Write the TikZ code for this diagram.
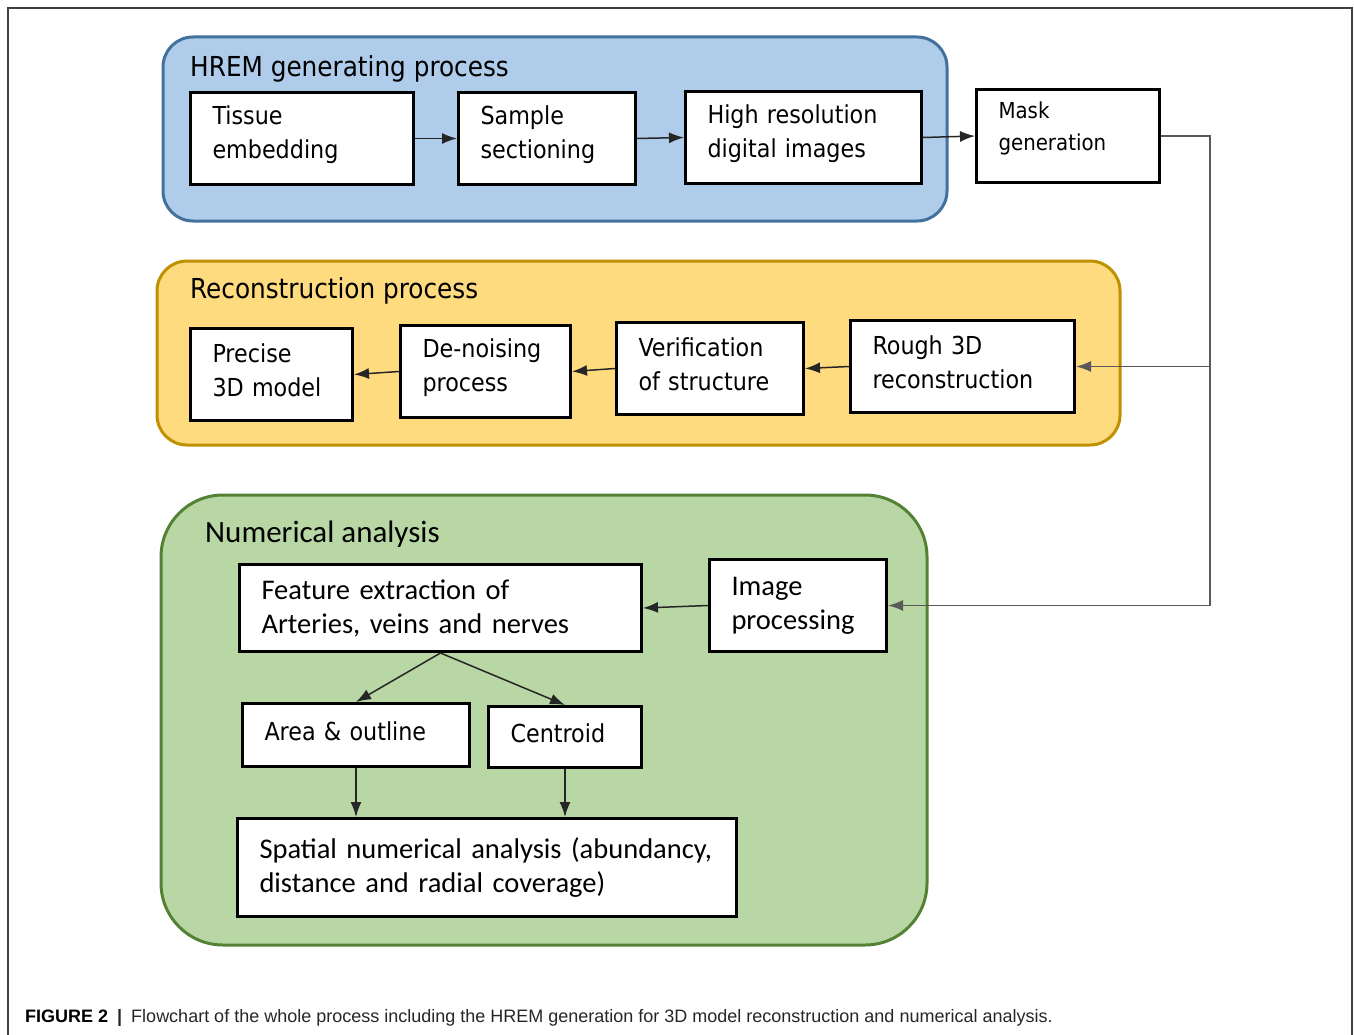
\documentclass[tikz,border=0pt]{standalone}
\usepackage{fontspec}
\usetikzlibrary{arrows.meta}
\IfFontExistsTF{DejaVu Sans Condensed}
  {\newfontfamily\tah[Scale=1.1]{DejaVu Sans Condensed}}
  {\newfontfamily\tah{DejaVu Sans}}
\newfontfamily\calib{Carlito}
\newfontfamily\capfont{Liberation Sans}
\definecolor{hremfill}{RGB}{175,205,234}
\definecolor{hremline}{RGB}{65,113,156}
\definecolor{recfill}{RGB}{255,219,128}
\definecolor{recline}{RGB}{191,144,0}
\definecolor{numfill}{RGB}{184,215,164}
\definecolor{numline}{RGB}{84,130,53}
\tikzset{
  box/.style={draw, line width=3pt, fill=white, anchor=north west, align=left, inner xsep=22pt, inner ysep=0pt},
  tbox/.style={box, font=\tah\fontsize{22.5}{34}\selectfont, execute at end node={\par\vspace*{8pt}}},
  cbox/.style={box, font=\calib\fontsize{28.5}{34}\selectfont},
  group/.style={line width=3pt},
  title/.style={anchor=base west, inner sep=0pt},
  link/.style={line width=1.5pt, black!85},
  bus/.style={line width=1.5pt, black!65}
}
\begin{document}
\begin{tikzpicture}[x=1pt, y=-1pt, >={Latex[length=15pt,width=11pt]}]
\useasboundingbox (0,0) rectangle (1354,1035);
\draw[line width=2pt, black!75] (8,1035)--(8,8)--(1352,8)--(1352,1035);

% the three process groups
\draw[group, draw=hremline, fill=hremfill, rounded corners=30pt] (163,37) rectangle (947,221);
\draw[group, draw=recline, fill=recfill, rounded corners=30pt] (157,261) rectangle (1120,445);
\draw[group, draw=numline, fill=numfill, rounded corners=62pt] (161,495) rectangle (927,945);
\node[title, font=\tah\fontsize{25}{30}\selectfont] (hremt) at (190,77) {HREM generating process};
\node[title, font=\tah\fontsize{25}{30}\selectfont] (rect) at (190,298) {Reconstruction process};
\node[title, font=\calib\fontsize{31}{36}\selectfont] (numt) at (205,542) {Numerical analysis};

% HREM
\node[tbox, text width=179pt, minimum height=92pt] (tissue) at (189,91) {Tissue\\embedding};
\node[tbox, text width=133pt, minimum height=92pt] (sample) at (457,91) {Sample\\sectioning};
\node[tbox, text width=192pt, minimum height=92pt] (highres) at (684,90) {High resolution\\digital images};
\node[box, font=\tah\fontsize{20}{32}\selectfont, text width=139pt, minimum height=93pt,
  execute at end node={\par\vspace*{16pt}}] (mask) at (975,88) {Mask\\generation};

% reconstruction
\node[tbox, text width=118pt, minimum height=92pt] (precise) at (189,327) {Precise\\3D model};
\node[tbox, text width=126pt, minimum height=92pt] (denoise) at (399,324) {De-noising\\process};
\node[tbox, text width=143pt, minimum height=92pt] (verif) at (615,321) {Verification\\of structure};
\node[tbox, text width=180pt, minimum height=92pt] (rough) at (849,319) {Rough 3D\\reconstruction};

% numerical analysis
\node[cbox, text width=358pt, minimum height=87pt] (feature) at (238,563) {Feature extraction of\\Arteries, veins and nerves};
\node[cbox, text width=133pt, minimum height=92pt] (image) at (708,558) {Image\\processing};
\node[tbox, text width=183pt, minimum height=63pt] (area) at (241,702) {Area \& outline};
\node[tbox, text width=109pt, minimum height=61pt] (centroid) at (487,705) {Centroid};
\node[cbox, text width=455pt, minimum height=98pt] (spatial) at (236,817) {Spatial numerical analysis (abundancy,\\distance and radial coverage)};

\draw[link, ->] (tissue.east) -- (sample.west);
\draw[link, ->] (sample.east) -- (highres.west);
\draw[link, ->] (highres.east) -- (mask.west);
\draw[link, ->] (rough.west) -- (verif.east);
\draw[link, ->] (verif.west) -- (denoise.east);
\draw[link, ->] (denoise.west) -- (precise.east);
\draw[link, ->] (image.west) -- (feature.east);
\draw[link, ->] (feature.south) -- (area.north);
\draw[link, ->] (feature.south) -- (centroid.north);
\draw[link, ->] (area.south) -- (area.south |- spatial.north);
\draw[link, ->] (centroid.south) -- (centroid.south |- spatial.north);

% line from mask generation
\coordinate (split) at (1210,0);
\draw[bus, ->] (mask.east) -- (split |- mask.east) |- (image.east);
\draw[bus, ->] (split |- rough.east) -- (rough.east);

\node[anchor=base west, inner sep=0pt, font=\capfont\fontsize{18}{20}\selectfont, black!85] (cap) at (25,1022)
  {\textbf{\color{black}FIGURE 2}\enspace\textbf{|}\enspace Flowchart of the whole process including the HREM generation for 3D model reconstruction and numerical analysis.};
\end{tikzpicture}
\end{document}
